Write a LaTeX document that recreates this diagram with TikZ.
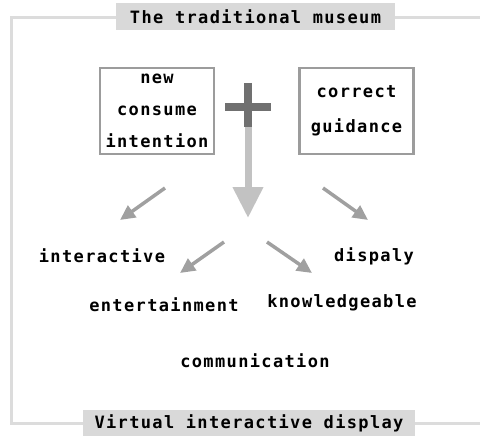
\documentclass[tikz,border=0pt]{standalone}
\usepackage{fontspec}
\usepackage{tikz}
\usetikzlibrary{arrows.meta,positioning}
\newfontfamily\labfont{DejaVu Sans Mono}[LetterSpace=8]
\definecolor{mframe}{HTML}{DCDCDC}
\definecolor{mtag}{HTML}{D9D9D9}
\definecolor{mbox}{HTML}{9C9C9C}
\definecolor{mplus}{HTML}{707070}
\definecolor{mshaft}{HTML}{C2C2C2}
\definecolor{marr}{HTML}{A0A0A0}

\begin{document}
\begin{tikzpicture}[x=1pt,y=-1pt,
      lab/.style={font=\labfont\fontsize{17}{20}\selectfont\bfseries,inner sep=0pt},
      tag/.style={lab,fill=mtag,minimum height=27pt},
      box/.style={lab,draw=mbox,line width=2.6pt,minimum width=114pt,
                  minimum height=86pt,align=center},
      frame/.style={mframe,line width=3pt},
      arr/.style={-{Triangle[length=15pt,width=14pt]},line width=3.5pt,marr},
      bigarr/.style={-{Triangle[length=31pt,width=29pt]},line width=7pt,mshaft}]
    \useasboundingbox (0,0) rectangle (480,436);
    \draw[frame] (480,18) -- (11,18) -- (11,423) -- (480,423);
    \node[tag,minimum width=279pt] (trad) at (255.5,17) {The traditional museum};
    \node[tag,minimum width=332pt] (virt) at (249,423) {Virtual interactive display};
    % the two sources
    \node[box] (intent) at (157,111) {new\\[12pt]consume\\[12pt]intention};
    \node[box] (guide) at (356.5,111) {correct\\[15pt]guidance};
    % plus and main arrow
    \draw[mplus,line width=8pt] (225,107) -- (271,107);
    \draw[mplus,line width=8pt] (248,83) -- (248,127);
    \coordinate (plusfoot) at (248,127);
    \coordinate (hub) at (248,218);
    \draw[bigarr] (plusfoot) -- (hub);
    % small arrows
    \coordinate (ula) at (165,188); \coordinate (ulb) at (120,220);
    \coordinate (ura) at (323,188); \coordinate (urb) at (368,220);
    \coordinate (lla) at (224,242); \coordinate (llb) at (180,273);
    \coordinate (lra) at (267,242); \coordinate (lrb) at (312,273);
    \draw[arr] (ula) -- (ulb); \draw[arr] (ura) -- (urb);
    \draw[arr] (lla) -- (llb); \draw[arr] (lra) -- (lrb);
    % outcomes
    \node[lab] (inter) at (102,256) {interactive};
    \node[lab] (disp) at (374,256) {dispaly};
    \node[lab] (enter) at (164,305) {entertainment};
    \node[lab] (know) at (342,303) {knowledgeable};
    \node[lab] (comm) at (255,361) {communication};
  \end{tikzpicture}
\end{document}
